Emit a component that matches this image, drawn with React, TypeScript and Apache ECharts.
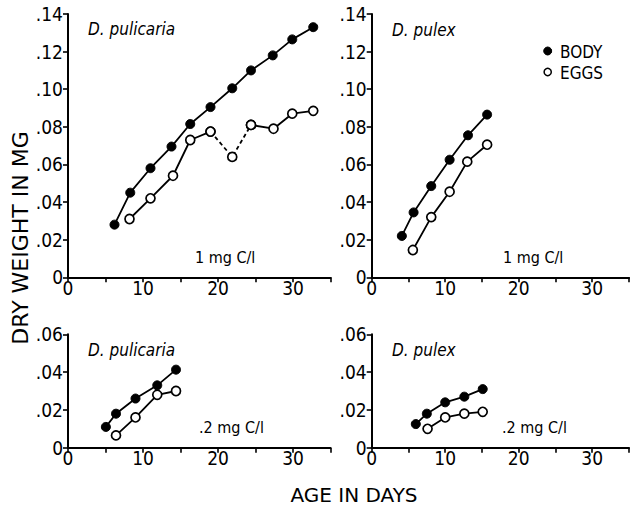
import React, { useEffect, useRef } from "react";
import * as echarts from "echarts";

// ---- data (age in days, dry weight in mg) ----
const tlBodyAge = [6.2, 8.3, 11.0, 13.8, 16.3, 19.0, 21.9, 24.4, 27.3, 29.9, 32.7];
const tlBodyWeight = [0.028, 0.045, 0.058, 0.0695, 0.0815, 0.0905, 0.1005, 0.11, 0.118, 0.1265, 0.133];
const tlEggsAge = [8.2, 11.0, 14.0, 16.3, 19.0, 21.9, 24.4, 27.4, 29.9, 32.7];
const tlEggsWeight = [0.031, 0.042, 0.054, 0.073, 0.0775, 0.064, 0.081, 0.079, 0.087, 0.0885];
const tlEggsDashedFrom = 4; // dashed between these indices
const tlEggsDashedTo = 6;

const trBodyAge = [4.1, 5.7, 8.1, 10.6, 13.1, 15.7];
const trBodyWeight = [0.022, 0.0345, 0.0485, 0.0625, 0.0755, 0.0865];
const trEggsAge = [5.6, 8.1, 10.6, 13.0, 15.7];
const trEggsWeight = [0.0145, 0.032, 0.0455, 0.0615, 0.0705];

const blBodyAge = [5.05, 6.4, 9.0, 11.9, 14.4];
const blBodyWeight = [0.011, 0.018, 0.026, 0.033, 0.0413];
const blEggsAge = [6.4, 9.0, 11.9, 14.4];
const blEggsWeight = [0.0065, 0.016, 0.028, 0.03];

const brBodyAge = [6.0, 7.5, 10.0, 12.6, 15.1];
const brBodyWeight = [0.0125, 0.018, 0.024, 0.027, 0.031];
const brEggsAge = [7.6, 10.0, 12.6, 15.1];
const brEggsWeight = [0.01, 0.016, 0.018, 0.019];

const species = ["D. pulicaria", "D. pulex", "D. pulicaria", "D. pulex"];
const foodLevels = ["1 mg C/l", "1 mg C/l", ".2 mg C/l", ".2 mg C/l"];
const legendNames = ["BODY", "EGGS"];
const yLabel = "DRY WEIGHT IN MG";
const xLabel = "AGE IN DAYS";

const zip = (a: number[], b: number[]) => a.map((v, i) => [v, b[i]]);

const FONT = "'DejaVu Sans Condensed', 'Liberation Sans Narrow', 'DejaVu Sans', sans-serif";
const FONT_W = "'DejaVu Sans', sans-serif";

export default function App() {
  const ref = useRef<HTMLDivElement>(null);
  useEffect(() => {
    if (!ref.current) return;
    const chart = echarts.init(ref.current, undefined, { renderer: "svg" });

    const grids = [
      { left: 68, top: 14, width: 262.5, height: 263.3 },
      { left: 371.7, top: 14, width: 262.5, height: 263.3 },
      { left: 68, top: 334.3, width: 262.5, height: 113.4 },
      { left: 371.7, top: 334.3, width: 262.5, height: 113.4 },
    ];
    const yMax = [0.14, 0.14, 0.06, 0.06];

    const xAxes = grids.map((_, i) => ({
      type: "value",
      gridIndex: i,
      min: 0,
      max: 35,
      interval: 5,
      axisLine: { show: true, lineStyle: { color: "#000", width: 2 } },
      axisTick: { show: true, inside: false, length: 5, lineStyle: { color: "#000", width: 1.6 } },
      splitLine: { show: false },
      axisLabel: {
        color: "#000",
        fontSize: 19,
        fontFamily: FONT,
        margin: 1,
        formatter: (v: number) => (v % 10 === 0 ? String(v) : ""),
      },
    }));
    const yAxes = grids.map((_, i) => ({
      type: "value",
      gridIndex: i,
      min: 0,
      max: yMax[i],
      interval: 0.02,
      axisLine: { show: true, lineStyle: { color: "#000", width: 2 } },
      axisTick: { show: true, inside: false, length: 5, lineStyle: { color: "#000", width: 1.6 } },
      splitLine: { show: false },
      axisLabel: {
        color: "#000",
        fontSize: 19,
        fontFamily: FONT,
        margin: 5,
        formatter: (v: number) => (Math.abs(v) < 1e-9 ? "0" : v.toFixed(2).replace(/^0/, "")),
      },
    }));

    const body = (i: number, data: number[][]) => ({
      type: "line",
      name: "BODY",
      xAxisIndex: i,
      yAxisIndex: i,
      data,
      symbol: "circle",
      symbolSize: 9,
      lineStyle: { color: "#000", width: 1.8 },
      itemStyle: { color: "#000", borderColor: "#000", borderWidth: 1 },
      z: 3,
    });
    const eggs = (i: number, data: number[][], dashed = false) => ({
      type: "line",
      name: "EGGS",
      xAxisIndex: i,
      yAxisIndex: i,
      data,
      symbol: "circle",
      symbolSize: 9,
      lineStyle: { color: "#000", width: 1.8, type: dashed ? [4, 3] : "solid" },
      itemStyle: { color: "#fff", borderColor: "#000", borderWidth: 1.7 },
      z: dashed ? 1 : 3,
    });

    const tlEggs = zip(tlEggsAge, tlEggsWeight);

    const series = [
      eggs(0, tlEggs.slice(tlEggsDashedFrom, tlEggsDashedTo + 1), true),
      body(0, zip(tlBodyAge, tlBodyWeight)),
      eggs(0, tlEggs.slice(0, tlEggsDashedFrom + 1)),
      eggs(0, tlEggs.slice(tlEggsDashedTo)),
      body(1, zip(trBodyAge, trBodyWeight)),
      eggs(1, zip(trEggsAge, trEggsWeight)),
      body(2, zip(blBodyAge, blBodyWeight)),
      eggs(2, zip(blEggsAge, blEggsWeight)),
      body(3, zip(brBodyAge, brBodyWeight)),
      eggs(3, zip(brEggsAge, brEggsWeight)),
    ];

    const speciesPos = [
      [88, 29],
      [392, 30],
      [88, 350],
      [392, 350],
    ];
    const foodPos = [
      [195, 257],
      [503, 257],
      [199, 427],
      [502, 427],
    ];

    const graphic: any[] = [];
    species.forEach((s, i) => {
      graphic.push({
        type: "text",
        x: speciesPos[i][0],
        y: speciesPos[i][1],
        style: {
          text: s,
          fill: "#000",
          font: `italic 17px ${FONT}`,
          textAlign: "left",
          textVerticalAlign: "middle",
        },
      });
    });
    foodLevels.forEach((s, i) => {
      graphic.push({
        type: "text",
        x: foodPos[i][0],
        y: foodPos[i][1],
        style: {
          text: s,
          fill: "#000",
          font: `16px ${FONT}`,
          textAlign: "left",
          textVerticalAlign: "middle",
        },
      });
    });
    // legend
    legendNames.forEach((n, i) => {
      const cy = 51 + i * 21;
      graphic.push({
        type: "circle",
        shape: { cx: 547.7, cy, r: i === 0 ? 4 : 3.6 },
        style: { fill: i === 0 ? "#000" : "#fff", stroke: "#000", lineWidth: i === 0 ? 1 : 1.5 },
      });
      graphic.push({
        type: "text",
        x: 560,
        y: cy + 1,
        style: {
          text: n,
          fill: "#000",
          font: `17px ${FONT}`,
          textAlign: "left",
          textVerticalAlign: "middle",
        },
      });
    });
    // axis titles
    graphic.push({
      type: "text",
      x: 20,
      y: 238,
      rotation: Math.PI / 2,
      style: {
        text: yLabel,
        fill: "#000",
        font: `22px ${FONT_W}`,
        textAlign: "center",
        textVerticalAlign: "middle",
      },
    });
    graphic.push({
      type: "text",
      x: 354,
      y: 495,
      style: {
        text: xLabel,
        fill: "#000",
        font: `20px ${FONT_W}`,
        textAlign: "center",
        textVerticalAlign: "middle",
      },
    });

    chart.setOption({
      animation: false,
      backgroundColor: "#fff",
      grid: grids,
      xAxis: xAxes,
      yAxis: yAxes,
      series,
      graphic,
    });
    return () => chart.dispose();
  }, []);
  return (
    <div
      ref={ref}
      style={{ position: "fixed", left: 0, top: 0, width: 632, height: 507 }}
    />
  );
}
